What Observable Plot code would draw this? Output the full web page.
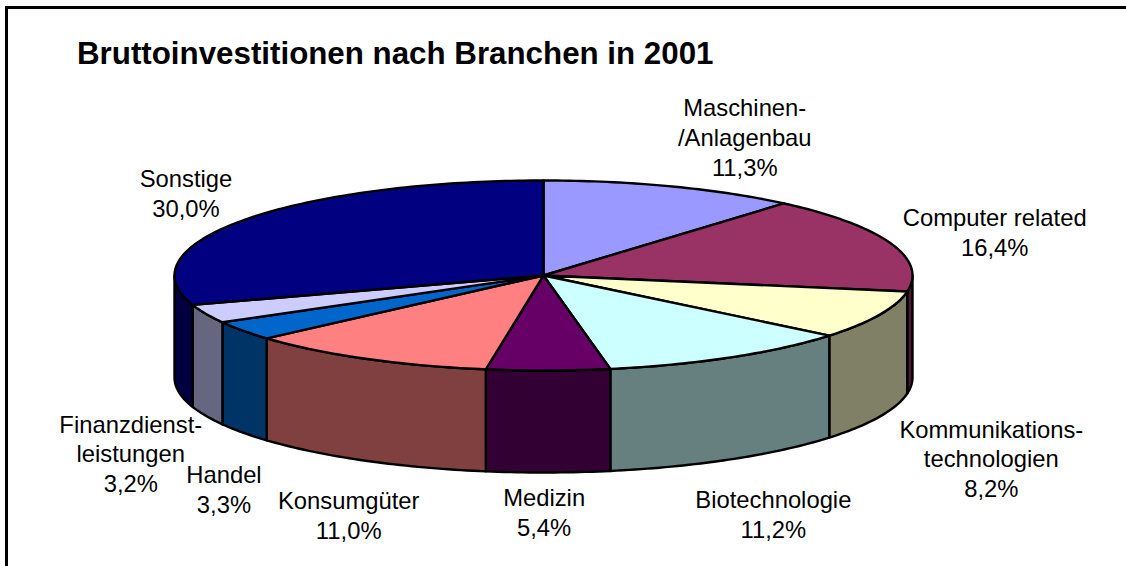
<!DOCTYPE html>
<html>
<head>
<meta charset="utf-8">
<script src="https://cdn.jsdelivr.net/npm/d3@7"></script>
<script src="https://cdn.jsdelivr.net/npm/@observablehq/plot@0.6"></script>
<style>
html,body{margin:0;padding:0;background:#fff;overflow:hidden}
#frame{position:absolute;left:5px;top:6px;right:0;bottom:0;box-sizing:border-box;border:solid #000;border-width:3px 0 0 3px;}
#title{position:absolute;left:77px;top:36px;font:bold 31.3px "Liberation Sans",Arial,sans-serif;color:#000;white-space:nowrap;z-index:2}
#chart{position:absolute;left:0;top:0}
</style>
</head>
<body>
<div id="frame"></div>
<div id="title">Bruttoinvestitionen nach Branchen in 2001</div>
<div id="chart"></div>
<script>
const categories = ["Maschinen-\n/Anlagenbau","Computer related","Kommunikations-\ntechnologien","Biotechnologie","Medizin","Konsumgüter","Handel","Finanzdienst-\nleistungen","Sonstige"];
const shares = [11.3,16.4,8.2,11.2,5.4,11.0,3.3,3.2,30.0];
const topColors = ["#9999FF","#993366","#FFFFCC","#CCFFFF","#660066","#FF8080","#0066CC","#CCCCFF","#000080"];
const sideColors = ["#4D4D80","#4D1A33","#808066","#668080","#330033","#804040","#003366","#666680","#000040"];

// Layout of the tilted disc, in pixels of the page
const W = 1126, H = 566;
const cx = 543, cy = 275, rx = 369, ry = 95, depth = 102;
// label placement: offset from the rim point at the slice's middle angle
const labelNudge = [[73,-50],[104,-12],[112,143],[42,156],[-4,141],[-17,156],[-19,158],[-75,139],[-59,-27]];

const px = (a, drop=0) => ({x: cx + rx*Math.sin(a), y: cy - ry*Math.cos(a) + drop});
const arcs = d3.pie().sort(null).value(d=>d)(shares);
const step = Math.PI/180;
const arcAngles = (a0,a1) => { const n=Math.max(2,Math.ceil((a1-a0)/step)); return d3.range(n+1).map(i=>a0+(a1-a0)*i/n); };

const tops=[], sides=[];
arcs.forEach((s,i)=>{
  tops.push({k:i,x:cx,y:cy}, ...arcAngles(s.startAngle,s.endAngle).map(a=>({k:i,...px(a)})), {k:i,x:cx,y:cy});
  const a0=Math.max(s.startAngle,Math.PI/2), a1=Math.min(s.endAngle,3*Math.PI/2);
  if(a1>a0){
    const as=arcAngles(a0,a1);
    sides.push(...as.map(a=>({k:i,...px(a)})), ...as.slice().reverse().map(a=>({k:i,...px(a,depth)})), {k:i,...px(a0)});
  }
});
const labels = arcs.map((s,i)=>{
  const m=px((s.startAngle+s.endAngle)/2);
  const share=shares[i].toFixed(1).replace(".",",")+"%";
  return {x:m.x+labelNudge[i][0], y:m.y+labelNudge[i][1], text:categories[i]+"\n"+share};
});

const shape = (data,colors) => colors.map((c,i)=>Plot.line(data.filter(d=>d.k===i),{x:"x",y:"y",fill:c,stroke:"#000",strokeWidth:2.4,strokeLinejoin:"round",curve:"linear"}));

const plot = Plot.plot({
  width:W,height:H,margin:0,
  x:{domain:[0,W],range:[0,W],axis:null},
  y:{domain:[0,H],range:[0,H],axis:null},
  style:{background:"transparent"},
  marks:[
    ...shape(sides,sideColors),
    ...shape(tops,topColors),
    Plot.text(labels,{x:"x",y:"y",text:"text",fontSize:23.8,lineHeight:1.25,fill:"#000",fontFamily:"Liberation Sans, Arial, sans-serif",textAnchor:"middle"})
  ]
});
document.getElementById("chart").appendChild(plot);
</script>
</body>
</html>
